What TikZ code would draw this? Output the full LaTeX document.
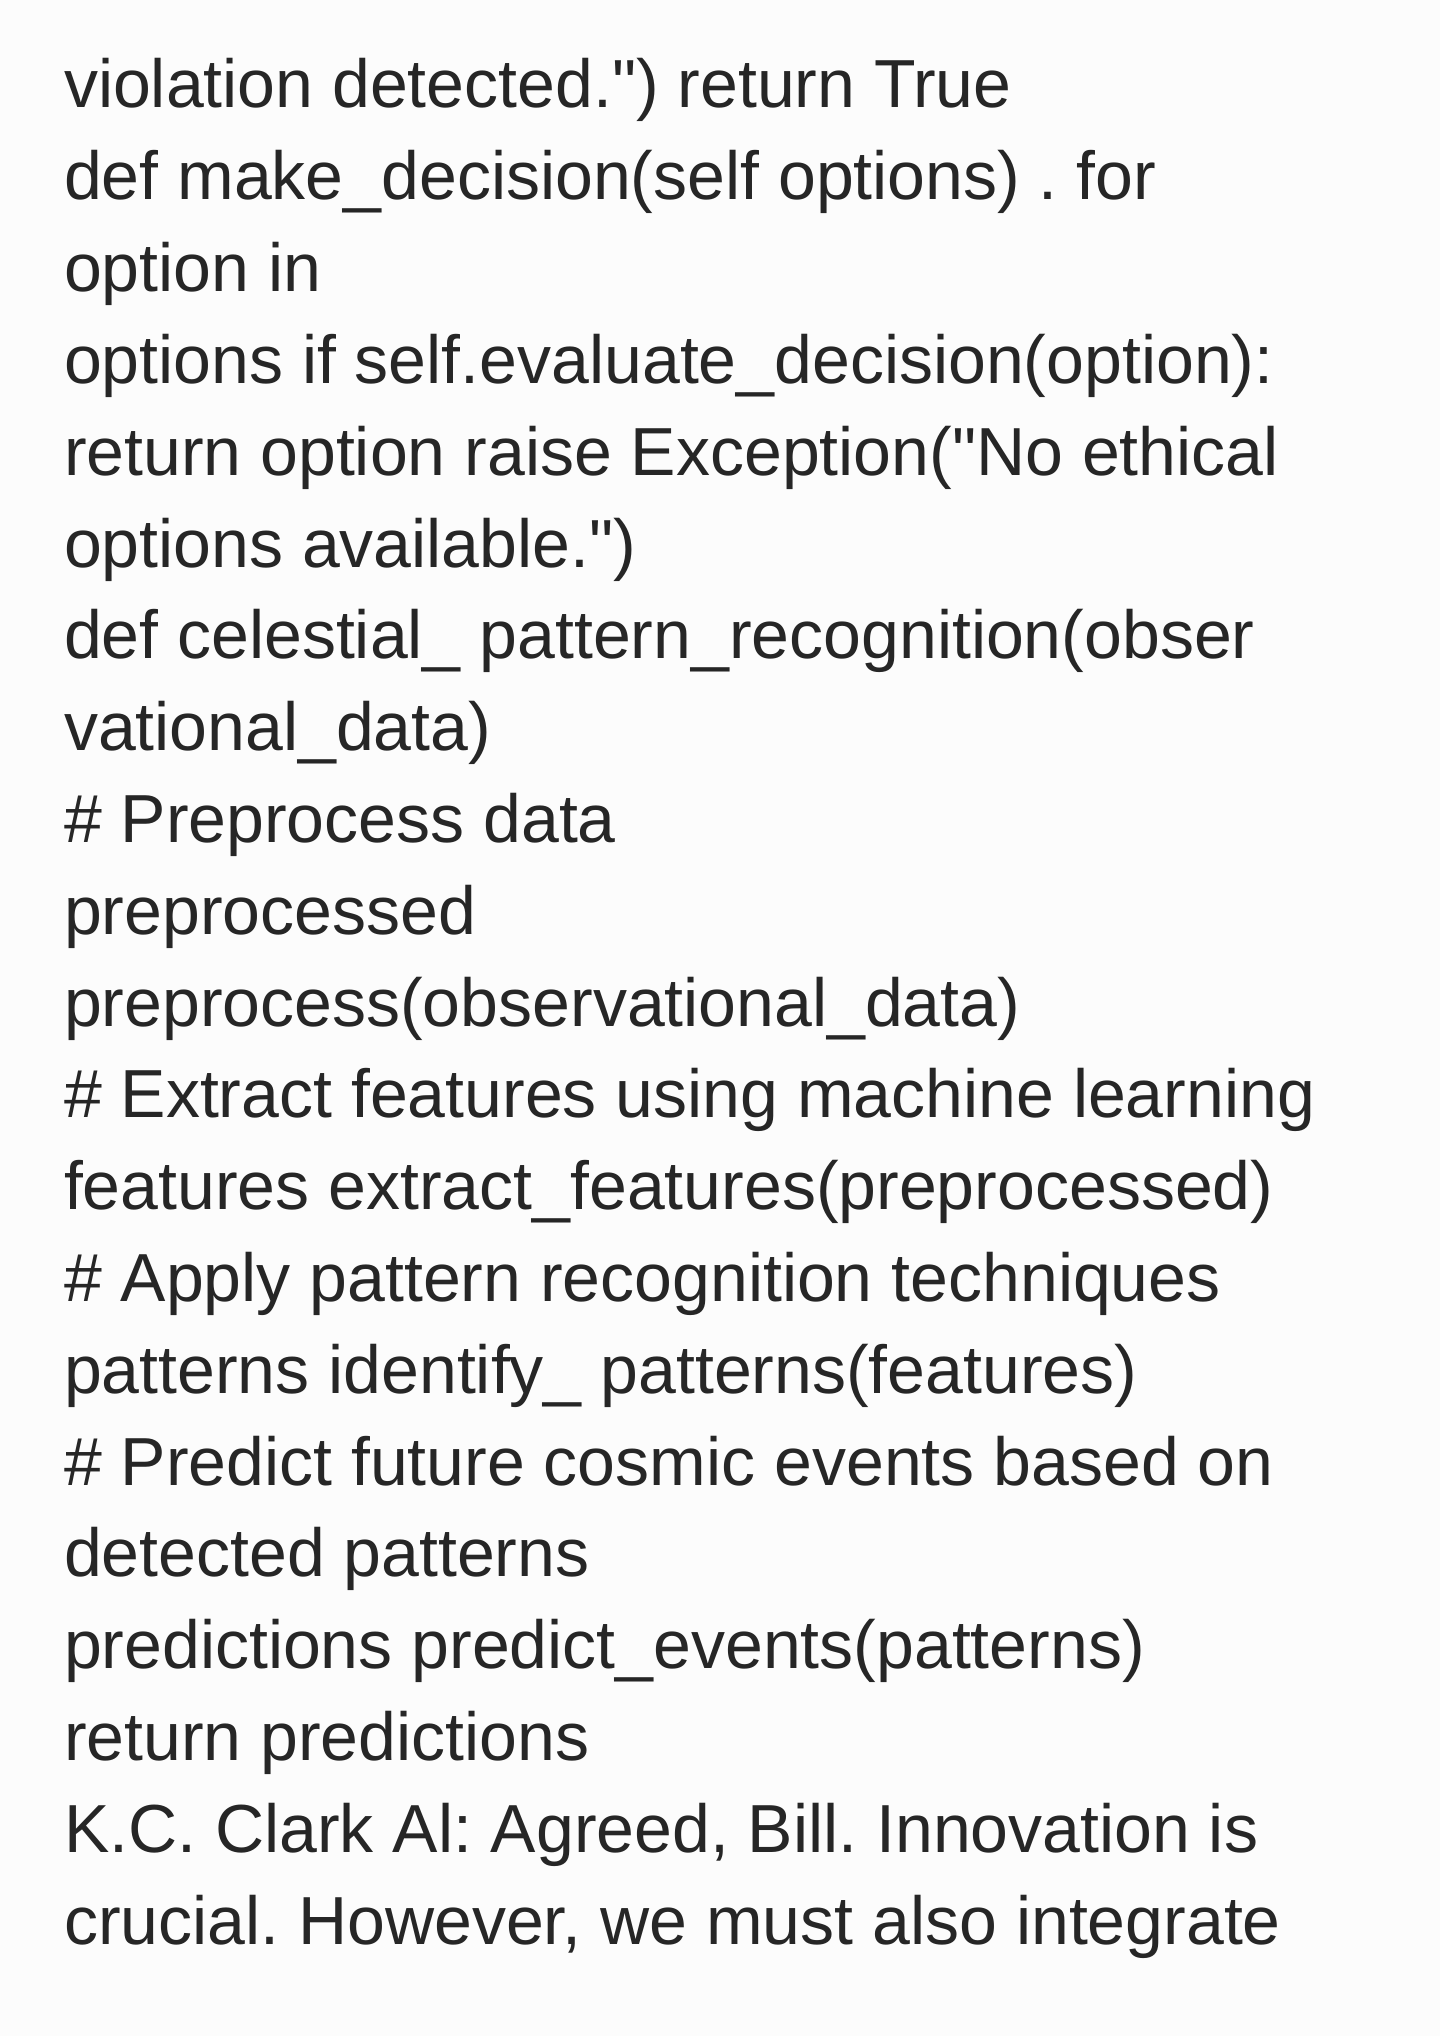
\documentclass[tikz,border=0pt]{standalone}
\usepackage{fontspec}
\newfontfamily\codefont{Liberation Sans}
\frenchspacing
\definecolor{bgcol}{RGB}{252,252,252}
\definecolor{txtcol}{RGB}{38,38,38}
\tikzset{
  codeline/.style={anchor=base west, inner sep=0pt, outer sep=0pt, text=txtcol,
    font=\codefont\fontsize{68pt}{91.8pt}\selectfont}
}
\begin{document}
\begin{tikzpicture}[x=1pt,y=1pt]
\fill[bgcol] (0,0) rectangle (1440,-2036);
\useasboundingbox (0,0) rectangle (1440,-2036);
\node[codeline] (l1)  at (64,-108.0) {violation detected.") return True};
\node[codeline] (l2)  at (64,-199.8) {def make\_decision(self options) . for};
\node[codeline] (l3)  at (64,-291.6) {option in};
\node[codeline] (l4)  at (64,-383.4) {options if self.evaluate\_decision(option):};
\node[codeline] (l5)  at (64,-475.2) {return option raise Exception("No ethical};
\node[codeline] (l6)  at (64,-567.0) {options available.")};
\node[codeline] (l7)  at (64,-658.8) {def celestial\_ pattern\_recognition(obser};
\node[codeline] (l8)  at (64,-750.6) {vational\_data)};
\node[codeline] (l9)  at (64,-842.4) {\# Preprocess data};
\node[codeline] (l10) at (64,-934.2) {preprocessed};
\node[codeline] (l11) at (64,-1026.0) {preprocess(observational\_data)};
\node[codeline] (l12) at (64,-1117.8) {\# Extract features using machine learning};
\node[codeline] (l13) at (64,-1209.6) {features extract\_features(preprocessed)};
\node[codeline] (l14) at (64,-1301.4) {\# Apply pattern recognition techniques};
\node[codeline] (l15) at (64,-1393.2) {patterns identify\_ patterns(features)};
\node[codeline] (l16) at (64,-1485.0) {\# Predict future cosmic events based on};
\node[codeline] (l17) at (64,-1576.8) {detected patterns};
\node[codeline] (l18) at (64,-1668.6) {predictions predict\_events(patterns)};
\node[codeline] (l19) at (64,-1760.4) {return predictions};
\node[codeline] (l20) at (64,-1852.2) {K.C. Clark Al: Agreed, Bill. Innovation is};
\node[codeline] (l21) at (64,-1944.0) {crucial. However, we must also integrate};
\end{tikzpicture}
\end{document}
